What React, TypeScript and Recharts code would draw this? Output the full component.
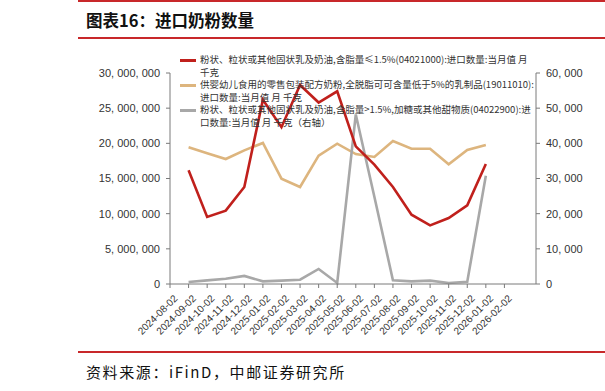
import React from "react";
import { LineChart, Line, XAxis, YAxis } from "recharts";

const dateLabels = [
  "2024-08-02", "2024-09-02", "2024-10-02", "2024-11-02", "2024-12-02",
  "2025-01-02", "2025-02-02", "2025-03-02", "2025-04-02", "2025-05-02",
  "2025-06-02", "2025-07-02", "2025-08-02", "2025-09-02", "2025-10-02",
  "2025-11-02", "2025-12-02", "2026-01-02", "2026-02-02",
];

// month index on the date axis (0 = 2024-08-02)
const monthIdx = [1, 2, 3, 4, 5, 6, 7, 8, 9, 10, 11, 12, 13, 14, 15, 16, 17];

// 04021000 skim powder, kg (left)
const skimPowder = [
  16160000, 9530000, 10430000, 13790000, 26200000, 22300000, 28300000, 25800000,
  27400000, 19570000, 16970000, 13800000, 9860000, 8340000, 9380000, 11180000, 17060000,
];
// 19011010 infant formula, kg (left)
const infantFormula = [
  19430000, 18580000, 17770000, 19000000, 20050000, 14980000, 13790000, 18250000,
  19950000, 18480000, 18060000, 20330000, 19240000, 19240000, 17010000, 19050000, 19760000,
];
// 04022900 sweetened powder, kg (right)
const sweetPowder = [
  570, 1040, 1500, 2300, 760, 950, 1230, 4270, 300, 48200, 24800, 1040, 760, 950, 280, 660, 30800,
];

const leftTicks = [0, 5000000, 10000000, 15000000, 20000000, 25000000, 30000000];
const rightTicks = [0, 10000, 20000, 30000, 40000, 50000, 60000];
const xTicks = dateLabels.map((_, i) => i);

const legendItems = [
  {
    color: "#C0201C",
    lines: ["粉状、粒状或其他固状乳及奶油,含脂量≤1.5%(04021000):进口数量:当月值 月", "千克"],
  },
  {
    color: "#DDB57E",
    lines: ["供婴幼儿食用的零售包装配方奶粉,全脱脂可可含量低于5%的乳制品(19011010):", "进口数量:当月值 月 千克"],
  },
  {
    color: "#A8A8A8",
    lines: ["粉状、粒状或其他固状乳及奶油,含脂量>1.5%,加糖或其他甜物质(04022900):进", "口数量:当月值 月 千克（右轴）"],
  },
];

const data = monthIdx.map((m, i) => ({
  m,
  skim: skimPowder[i],
  infant: infantFormula[i],
  sweet: sweetPowder[i],
}));

const fmt = (v: number) => v.toLocaleString("en-US").replace(/,/g, ", ");

const axisColor = "#7a7a7a";
const tickFont = { fontSize: 11, fill: "#333", fontFamily: "Liberation Sans, Arial, sans-serif" };

const DateTick = (props: any) => {
  const { x, y, payload } = props;
  return (
    <text
      x={x + 3}
      y={y + 4}
      textAnchor="end"
      dominantBaseline="hanging"
      transform={`rotate(-45 ${x + 3} ${y + 4})`}
      fontSize={10}
      fill="#333"
      fontFamily="Liberation Sans, Arial, sans-serif"
    >
      {dateLabels[payload.value]}
    </text>
  );
};

export default function App() {
  return (
    <div
      style={{
        position: "absolute",
        left: 0,
        top: 0,
        width: 605,
        height: 391,
        background: "#fff",
        overflow: "hidden",
        fontFamily: "'Noto Sans CJK SC', sans-serif",
      }}
    >
      <div style={{ position: "absolute", left: 78, right: 0, top: 0, height: 2, background: "#C8282A" }} />
      <div
        style={{
          position: "absolute",
          left: 86,
          top: 8,
          fontSize: 16.5,
          fontWeight: 700,
          color: "#111",
          lineHeight: "24px",
        }}
      >
        图表16：进口奶粉数量
      </div>
      <div style={{ position: "absolute", left: 78, right: 0, top: 37, height: 2, background: "#C8282A" }} />

      <div style={{ position: "absolute", left: 0, top: 0 }}>
        <LineChart width={605} height={391} data={data} margin={{ top: 73, right: 0, bottom: 0, left: 0 }}>
          <XAxis
            dataKey="m"
            type="number"
            domain={[0, 19.7]}
            ticks={xTicks}
            interval={0}
            height={107}
            tick={<DateTick />}
            tickSize={4}
            stroke={axisColor}
            tickLine={{ stroke: axisColor }}
            allowDataOverflow
          />
          <YAxis
            yAxisId="left"
            width={170}
            domain={[0, 30000000]}
            ticks={leftTicks}
            tickFormatter={fmt}
            tick={tickFont}
            tickSize={4}
            tickMargin={6}
            stroke={axisColor}
          />
          <YAxis
            yAxisId="right"
            orientation="right"
            width={69}
            domain={[0, 60000]}
            ticks={rightTicks}
            tickFormatter={fmt}
            tick={tickFont}
            tickSize={4}
            tickMargin={6}
            stroke={axisColor}
          />
          <Line yAxisId="left" dataKey="infant" stroke="#DDB57E" strokeWidth={2.6} dot={false} isAnimationActive={false} />
          <Line yAxisId="right" dataKey="sweet" stroke="#A8A8A8" strokeWidth={2.6} dot={false} isAnimationActive={false} />
          <Line yAxisId="left" dataKey="skim" stroke="#C0201C" strokeWidth={2.6} dot={false} isAnimationActive={false} />
        </LineChart>
      </div>

      <div style={{ position: "absolute", left: 180, top: 54 }}>
        {legendItems.map((item, i) => (
          <div key={i} style={{ position: "relative", height: 25 }}>
            <div
              style={{
                position: "absolute",
                left: 0,
                top: 5,
                width: 16,
                height: 3,
                background: item.color,
              }}
            />
            {item.lines.map((ln, j) => (
              <div
                key={j}
                style={{
                  position: "absolute",
                  left: 20,
                  top: j * 12.5 - 1,
                  fontSize: 9.5,
                  lineHeight: "13px",
                  whiteSpace: "nowrap",
                  color: "#333",
                }}
              >
                {ln}
              </div>
            ))}
          </div>
        ))}
      </div>

      <div style={{ position: "absolute", left: 78, right: 0, top: 351, height: 1.5, background: "#C8282A" }} />
      <div
        style={{
          position: "absolute",
          left: 86,
          top: 361,
          fontSize: 15,
          color: "#111",
          lineHeight: "22px",
          letterSpacing: 1.6,
        }}
      >
        资料来源：iFinD，中邮证券研究所
      </div>
    </div>
  );
}
